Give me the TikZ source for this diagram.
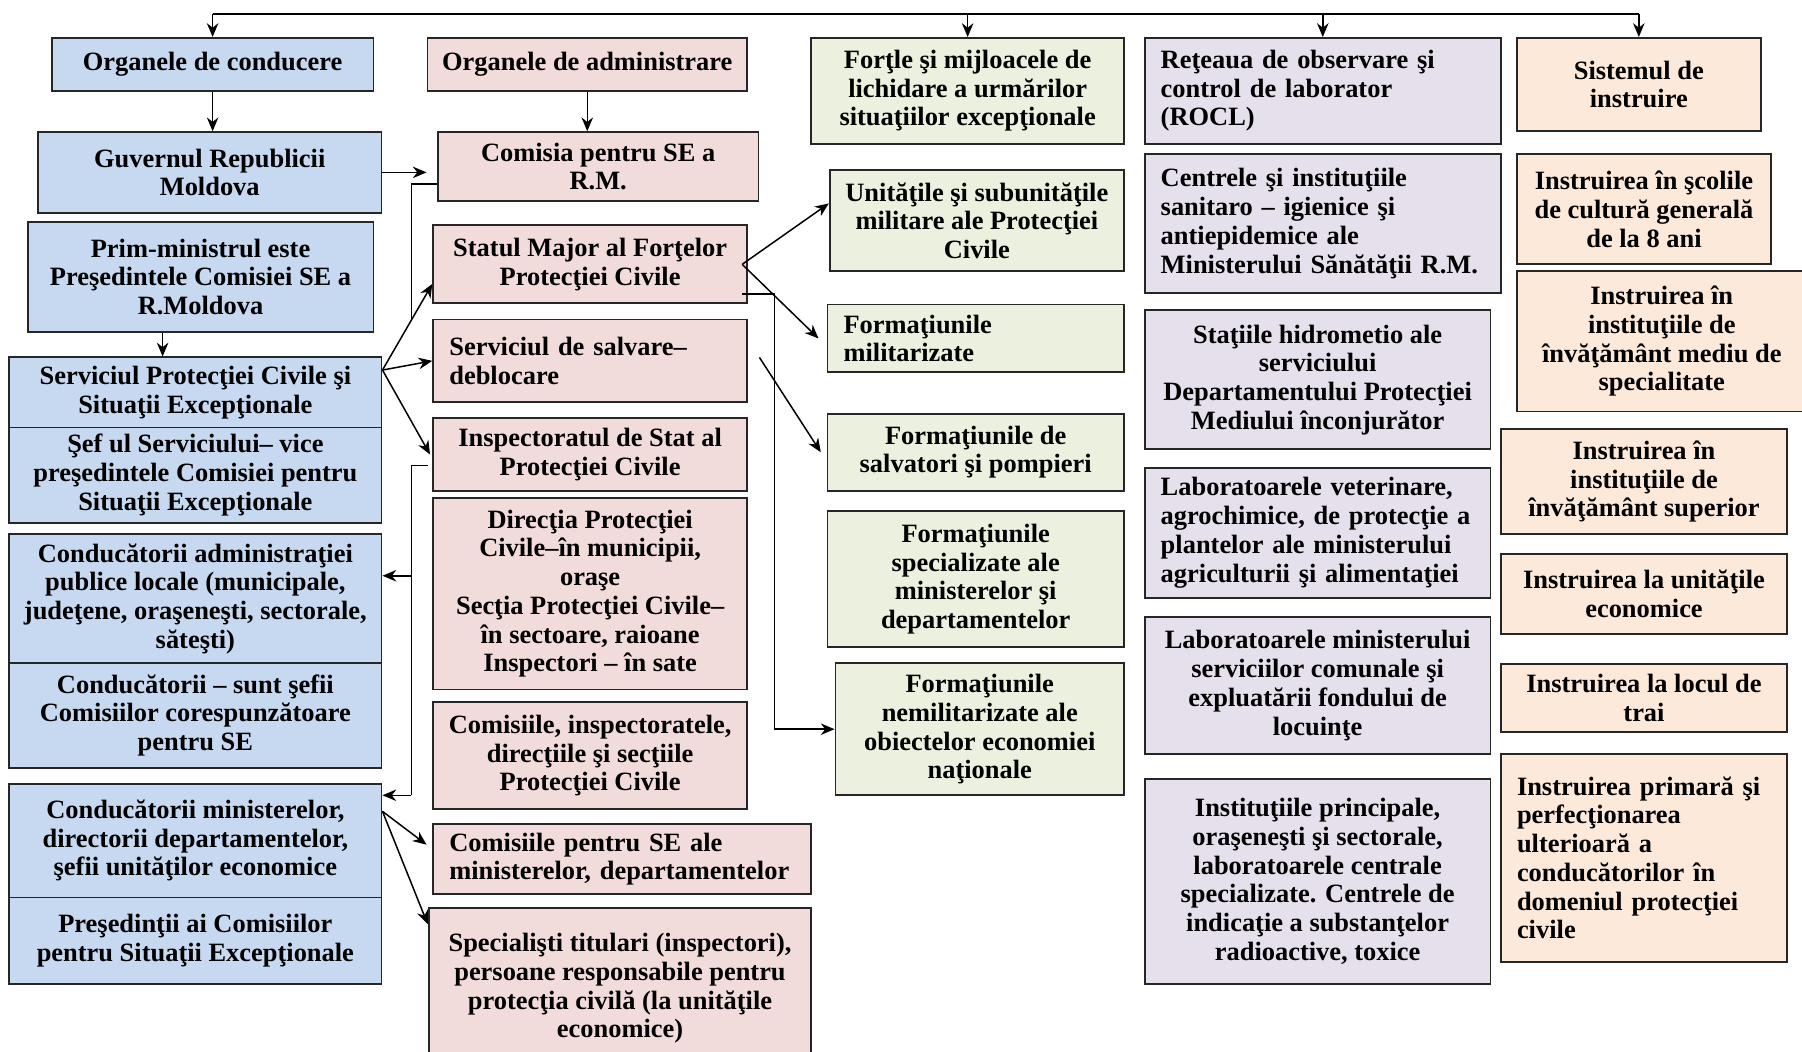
\documentclass[tikz,border=0pt]{standalone}
\usepackage{fontspec}
\setmainfont{Liberation Serif}
\usetikzlibrary{arrows.meta}
\definecolor{condblue}{RGB}{198,217,241}
\definecolor{admpink}{RGB}{242,220,219}
\definecolor{fortgreen}{RGB}{235,241,222}
\definecolor{retlav}{RGB}{229,224,236}
\definecolor{instrpeach}{RGB}{253,233,217}
\tikzset{
  box/.style={draw=black!85, line width=0.8pt, align=center, inner sep=1pt,
    font=\bfseries\fontsize{11.5}{12.5}\selectfont},
  cond/.style={box, fill=condblue},
  adm/.style={box, fill=admpink},
  fort/.style={box, fill=fortgreen},
  ret/.style={box, fill=retlav},
  instr/.style={box, fill=instrpeach},
  lft/.style={align=left, inner xsep=7pt},
  arr/.style={-{Stealth[length=6pt,width=5pt]}, line width=0.65pt},
  ln/.style={line width=0.65pt}
}
\begin{document}
\begin{tikzpicture}[x=0.5pt, y=-0.5pt]
\useasboundingbox[fill=white] (0,0) rectangle (1568,915);

\node[cond, minimum width=140pt, minimum height=23pt] (c1) at (185,56) {Organele de conducere};
\node[cond, minimum width=149.5pt, minimum height=35pt] (c2) at (182.5,150) {Guvernul Republicii\\Moldova};
\node[cond, minimum width=150.5pt, minimum height=48pt] (c3) at (174.5,241) {Prim-ministrul este\\Preşedintele Comisiei SE a\\R.Moldova};
\node[cond, minimum width=162pt, minimum height=30.5pt] (c4a) at (170,341.5) {Serviciul Protecţiei Civile şi\\Situaţii Excepţionale};
\node[cond, minimum width=162pt, minimum height=41.5pt] (c4b) at (170,413.5) {Şef ul Serviciului– vice\\preşedintele Comisiei pentru\\Situaţii Excepţionale};
\node[cond, minimum width=162pt, minimum height=56pt] (c5a) at (170,521) {Conducătorii administraţiei\\publice locale (municipale,\\judeţene, oraşeneşti, sectorale,\\săteşti)};
\node[cond, minimum width=162pt, minimum height=45.5pt] (c5b) at (170,622.5) {Conducătorii – sunt şefii\\Comisiilor corespunzătoare\\pentru SE};
\node[cond, minimum width=162pt, minimum height=49.5pt] (c6a) at (170,731.5) {Conducătorii ministerelor,\\directorii departamentelor,\\şefii unităţilor economice};
\node[cond, minimum width=162pt, minimum height=37.5pt] (c6b) at (170,818.5) {Preşedinţii ai Comisiilor\\pentru Situaţii Excepţionale};

\node[adm, minimum width=139pt, minimum height=23pt] (a1) at (511,56) {Organele de administrare};
\node[adm, minimum width=139.5pt, minimum height=30pt] (a2) at (520.5,145) {Comisia pentru SE a\\R.M.};
\node[adm, minimum width=136.5pt, minimum height=34pt] (a3) at (513.5,230) {Statul Major al Forţelor\\Protecţiei Civile};
\node[adm, lft, text width=122.5pt, minimum width=136.5pt, minimum height=36pt] (a4) at (513.5,314) {Serviciul de salvare–\\deblocare};
\node[adm, minimum width=136.5pt, minimum height=31.5pt] (a5) at (513.5,395.5) {Inspectoratul de Stat al\\Protecţiei Civile};
\node[adm, minimum width=136.5pt, minimum height=83.5pt] (a6) at (513.5,516.5) {Direcţia Protecţiei\\Civile–în municipii,\\oraşe\\Secţia Protecţiei Civile–\\în sectoare, raioane\\Inspectori – în sate};
\node[adm, minimum width=136.5pt, minimum height=46.5pt] (a7) at (513.5,657.5) {Comisiile, inspectoratele,\\direcţiile şi secţiile\\Protecţiei Civile};
\node[adm, lft, text width=150.5pt, minimum width=164.5pt, minimum height=30.5pt] (a8) at (541.5,747.5) {Comisiile pentru SE ale\\ministerelor, departamentelor};
\node[adm, minimum width=166.5pt, minimum height=70pt] (a9) at (539.5,860) {Specialişti titulari (inspectori),\\persoane responsabile pentru\\protecţia civilă (la unităţile\\economice)};

\node[fort, minimum width=136pt, minimum height=46pt] (f1) at (842,79) {Forţle şi mijloacele de\\lichidare a urmărilor\\situaţiilor excepţionale};
\node[fort, minimum width=128pt, minimum height=44pt] (f2) at (850,192) {Unităţile şi subunităţile\\militare ale Protecţiei\\Civile};
\node[fort, lft, text width=115pt, minimum width=129pt, minimum height=29.5pt] (f3) at (849,294.5) {Formaţiunile\\militarizate};
\node[fort, minimum width=129pt, minimum height=33.5pt] (f4) at (849,393.5) {Formaţiunile de\\salvatori şi pompieri};
\node[fort, minimum width=129pt, minimum height=59pt] (f5) at (849,504) {Formaţiunile\\specializate ale\\ministerelor şi\\departamentelor};
\node[fort, minimum width=125.5pt, minimum height=57.5pt] (f6) at (852.5,634.5) {Formaţiunile\\nemilitarizate ale\\obiectelor economiei\\naţionale};

\node[ret, lft, text width=141pt, minimum width=155pt, minimum height=46pt] (r1) at (1151,79) {Reţeaua de observare şi\\control de laborator\\(ROCL)};
\node[ret, lft, text width=141pt, minimum width=155pt, minimum height=60.5pt] (r2) at (1151,194.5) {Centrele şi instituţiile\\sanitaro – igienice şi\\antiepidemice ale\\Ministerului Sănătăţii R.M.};
\node[ret, minimum width=150.5pt, minimum height=60.5pt] (r3) at (1146.5,330.5) {Staţiile hidrometio ale\\serviciului\\Departamentului Protecţiei\\Mediului înconjurător};
\node[ret, lft, text width=136.5pt, minimum width=150.5pt, minimum height=56.5pt] (r4) at (1146.5,463.5) {Laboratoarele veterinare,\\agrochimice, de protecţie a\\plantelor ale ministerului\\agriculturii şi alimentaţiei};
\node[ret, minimum width=150.5pt, minimum height=59.5pt] (r5) at (1146.5,596.5) {Laboratoarele ministerului\\serviciilor comunale şi\\expluatării fondului de\\locuinţe};
\node[ret, minimum width=150.5pt, minimum height=89pt] (r6) at (1146.5,767) {Instituţiile principale,\\oraşeneşti şi sectorale,\\laboratoarele centrale\\specializate. Centrele de\\indicaţie a substanţelor\\radioactive, toxice};

\node[instr, minimum width=106pt, minimum height=40.5pt] (i1) at (1426,73.5) {Sistemul de\\instruire};
\node[instr, minimum width=110.5pt, minimum height=48pt] (i2) at (1430.5,182) {Instruirea în şcolile\\de cultură generală\\de la 8 ani};
\node[instr, minimum width=126pt, minimum height=61pt] (i3) at (1446,297) {Instruirea în\\instituţiile de\\învăţământ mediu de\\specialitate};
\node[instr, minimum width=124.5pt, minimum height=46pt] (i4) at (1430.5,419) {Instruirea în\\instituţiile de\\învăţământ superior};
\node[instr, minimum width=124.5pt, minimum height=35pt] (i5) at (1430.5,517) {Instruirea la unităţile\\economice};
\node[instr, minimum width=124.5pt, minimum height=29.5pt] (i6) at (1430.5,607.5) {Instruirea la locul de\\trai};
\node[instr, lft, text width=110.5pt, minimum width=124.5pt, minimum height=90.5pt] (i7) at (1430.5,746.5) {Instruirea primară şi\\perfecţionarea\\ulterioară a\\conducătorilor în\\domeniul protecţiei\\civile};

\coordinate (bar) at (0,12);
\draw[ln] (c1.north |- bar) -- (i1.north |- bar);
\foreach \n in {c1,f1,r1,i1}
  \draw[arr] (\n.north |- bar) -- (\n.north);

\draw[arr] (c1.south) -- (c1.south |- c2.north);
\draw[arr] (a1.south) -- (a1.south |- a2.north);
\draw[arr] (c2.east) -- ([xshift=-4.5pt]c2.east -| a2.west);
\draw[arr] ([xshift=-16.5pt]c3.south) -- ([xshift=-16.5pt]c3.south |- c4a.north);

\coordinate (fan1) at ([yshift=9.75pt]c4a.east);
\draw[arr] (fan1) -- ([yshift=-8.5pt]a3.west);
\draw[arr] (fan1) -- (a4.west);
\draw[arr] (fan1) -- ([xshift=-1pt]a5.west);

\coordinate (j1) at (358,278);
\draw[ln] ([yshift=-7.5pt]a2.west) -| (j1);

\coordinate (v1) at (358,405);
\coordinate (v2) at (358,692);
\coordinate (v3) at ([yshift=10pt]c5a.east);
\draw[ln] ([xshift=-2pt]a5.west |- v1) -- (v1) -- (v2);
\draw[arr] (v2) -- (v2 -| c6a.east);
\draw[arr] (v3 -| v1) -- (v3);

\coordinate (fan2) at ([yshift=12.75pt]c6a.east);
\draw[arr] (fan2) -- ([xshift=-2.5pt,yshift=6.25pt]a8.west);
\draw[arr] (fan2) -- ([yshift=-7.5pt]a9.north west);

\coordinate (fan3) at ([xshift=-2.5pt]a3.east);
\coordinate (v4) at (674,256);
\draw[arr] (fan3) -- ([yshift=7.5pt]f2.west);
\draw[arr] (fan3) -- ([xshift=-3.5pt]f3.west);
\draw[arr] (fan3 |- v4) -- (v4) |- (f6.west);
\draw[arr] ([xshift=5pt,yshift=1.5pt]a4.east) -- ([xshift=-2.5pt]f4.west);
\end{tikzpicture}
\end{document}
